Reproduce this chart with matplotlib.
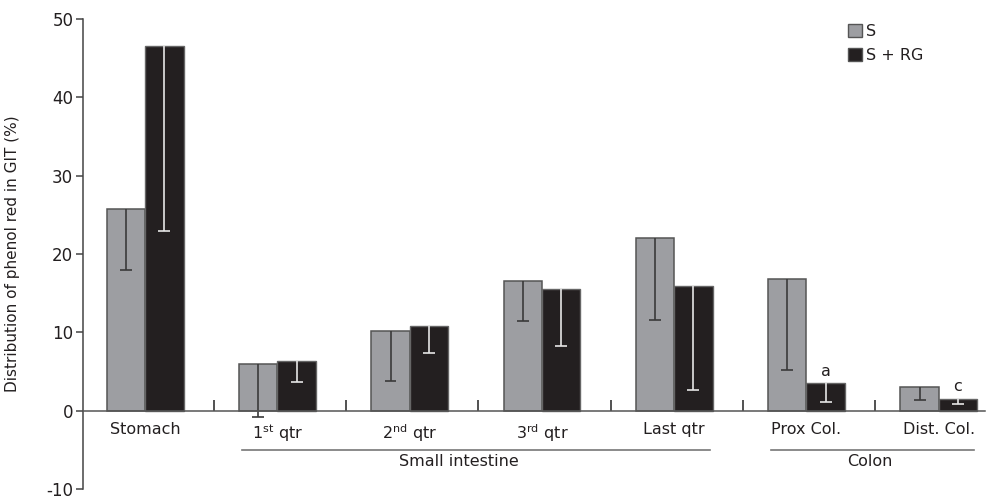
import numpy as np
import matplotlib
matplotlib.use("Agg")
import matplotlib.pyplot as plt
from matplotlib.patches import Patch
from matplotlib.ticker import FixedLocator

plt.rcParams["font.family"] = "DejaVu Sans"
plt.rcParams["mathtext.default"] = "regular"
plt.rcParams["axes.unicode_minus"] = False

categories = ["Stomach", "1$^{st}$ qtr", "2$^{nd}$ qtr", "3$^{rd}$ qtr",
              "Last qtr", "Prox Col.", "Dist. Col."]
s_mean = [25.7, 6.0, 10.2, 16.6, 22.1, 16.8, 3.0]
s_low = [18.0, -0.8, 3.8, 11.4, 11.6, 5.2, 1.35]
rg_mean = [46.6, 6.3, 10.8, 15.5, 15.9, 3.5, 1.5]
rg_low = [22.9, 3.6, 7.3, 8.2, 2.7, 1.1, 0.9]
rg_marks = ["", "", "", "", "", "a", "c"]

groups = ["Small intestine", "Colon"]
group_first = [1, 5]
group_last = [4, 6]

GRAY = "#9d9ea2"
BLACK = "#231f20"
TEXT = "#231f20"

x = np.arange(len(categories))
w = 0.29

fig = plt.figure(figsize=(9.95, 5.01), dpi=100)
ax = fig.add_axes([0.0834, 0.024, 0.9066, 0.938])

ax.bar(x - w / 2, s_mean, w, color=GRAY, edgecolor="#555555", linewidth=1.1, label="S")
ax.bar(x + w / 2, rg_mean, w, color=BLACK, edgecolor="#666666", linewidth=1.0, label="S + RG")

# error bars drawn downward only
cw = 0.045
ax.vlines(x - w / 2, s_low, s_mean, color="#3a3a3a", lw=1.2)
ax.hlines(s_low, x - w / 2 - cw, x - w / 2 + cw, color="#3a3a3a", lw=1.2)
ax.vlines(x + w / 2, rg_low, rg_mean, color="#e6e6e6", lw=1.2)
ax.hlines(rg_low, x + w / 2 - cw, x + w / 2 + cw, color="#e6e6e6", lw=1.2)

for xi, m, t in zip(x, rg_mean, rg_marks):
    if t:
        ax.text(xi + w / 2, m + 0.6, t, ha="center", va="bottom", fontsize=11.5, color=TEXT)

ax.set_xlim(-0.47, 6.35)
ax.set_ylim(-10, 50)
ax.set_yticks(range(-10, 51, 10))

for sp in ["top", "right"]:
    ax.spines[sp].set_visible(False)
ax.spines["left"].set_color("#444444")
ax.spines["left"].set_linewidth(1.1)
ax.spines["bottom"].set_position(("data", 0))
ax.spines["bottom"].set_color("#555555")
ax.spines["bottom"].set_linewidth(1.1)

ax.set_xticks(x)
ax.set_xticklabels(categories, fontsize=11.5, color=TEXT)
ax.tick_params(axis="x", which="major", length=0, pad=8.5)
ax.xaxis.set_minor_locator(FixedLocator(x[:-1] + 0.52))
ax.tick_params(axis="x", which="minor", direction="in", length=8, width=1.2, color="#333333")
ax.tick_params(axis="y", length=5, width=1.1, color="#444444", labelsize=12,
               labelcolor=TEXT, pad=2)

ax.set_ylabel("Distribution of phenol red in GIT (%)", fontsize=11, color=TEXT)
ax.yaxis.set_label_coords(-0.07, 0.5)

# group brackets below the category labels
text_x = [2.37, 5.48]
for name, a, b, tx in zip(groups, group_first, group_last, text_x):
    ax.plot([a - 0.27, b + 0.27], [-5.0, -5.0], color="#777777", lw=1.2, clip_on=False)
    ax.text(tx, -6.5, name, ha="center", va="center", fontsize=11.5, color=TEXT)

handles = [Patch(facecolor=GRAY, edgecolor="#555555", label="S"),
           Patch(facecolor=BLACK, edgecolor="#555555", label="S + RG")]
fig.legend(handles=handles, loc="upper left", bbox_to_anchor=(848 / 995, 1 - 24 / 501),
           frameon=False, fontsize=11.5, handlelength=0.85, handleheight=0.85,
           handletextpad=0.3, labelspacing=0.55, borderpad=0, borderaxespad=0,
           labelcolor=TEXT)

fig.savefig("out.png", dpi=100)
plt.close(fig)
